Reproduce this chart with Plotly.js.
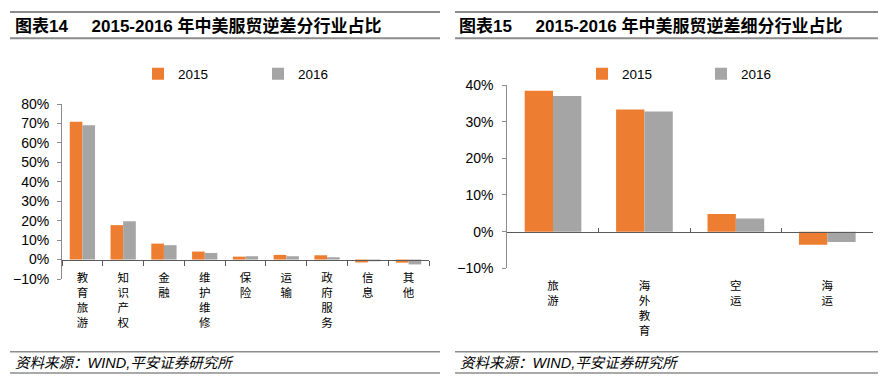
<!DOCTYPE html>
<html>
<head>
<meta charset="utf-8">
<script src="https://cdn.plot.ly/plotly-3.0.1.min.js"></script>
<style>html,body{margin:0;padding:0;background:#fff;overflow:hidden;width:896px;height:388px;}#chart{width:896px;height:388px;overflow:hidden;}</style>
</head>
<body>
<div id="chart"></div>
<script>
// ---- data ----
const seriesNames = ['2015', '2016'];
const cats1 = ['教育旅游', '知识产权', '金融', '维护维修', '保险', '运输', '政府服务', '信息', '其他'];
const share2015_1 = [70.9, 17.7, 8.2, 4.1, 1.5, 2.4, 2.2, -1.5, -1.6];
const share2016_1 = [69.1, 19.7, 7.4, 3.4, 1.7, 1.7, 1.2, -0.9, -2.5];
const cats2 = ['旅游', '海外教育', '空运', '海运'];
const share2015_2 = [38.4, 33.3, 4.8, -3.6];
const share2016_2 = [37.0, 32.8, 3.6, -2.8];
const title1 = '图表14\u00A0\u00A0\u00A0\u00A0\u00A02015-2016 年中美服贸逆差分行业占比';
const title2 = '图表15\u00A0\u00A0\u00A0\u00A0\u00A02015-2016 年中美服贸逆差细分行业占比';
const sourceText = '资料来源：WIND,平安证券研究所';

// ---- layout helpers ----
const W = 896, H = 388;
const px = v => v / W;
const py = v => 1 - v / H;
const ORANGE = '#ED7D31', GRAY = '#A5A5A5';
const FONT = 'Arial, "Liberation Sans", "Noto Sans CJK SC", sans-serif';
const vert = c => c.split('').join('<br>');

// left plot geometry
const y1Range = [-10, 80];
const y1Dom = [py(279), py(104)];
const zero1 = y1Dom[0] + (y1Dom[1] - y1Dom[0]) * (0 - y1Range[0]) / (y1Range[1] - y1Range[0]);
// right plot geometry
const y2Range = [-10, 40];
const y2Dom = [py(268.3), py(85)];
const zero2 = y2Dom[0] + (y2Dom[1] - y2Dom[0]) * (0 - y2Range[0]) / (y2Range[1] - y2Range[0]);

const traces = [
  {type: 'bar', name: seriesNames[0], x: cats1, y: share2015_1, marker: {color: ORANGE}, xaxis: 'x', yaxis: 'y', legend: 'legend'},
  {type: 'bar', name: seriesNames[1], x: cats1, y: share2016_1, marker: {color: GRAY}, xaxis: 'x', yaxis: 'y', legend: 'legend'},
  {type: 'bar', name: seriesNames[0], x: cats2, y: share2015_2, marker: {color: ORANGE}, xaxis: 'x2', yaxis: 'y2', legend: 'legend2'},
  {type: 'bar', name: seriesNames[1], x: cats2, y: share2016_2, marker: {color: GRAY}, xaxis: 'x2', yaxis: 'y2', legend: 'legend2'}
];

const xLineColor = '#5a5a5a', yLineColor = '#8c8c8c';

const layout = {
  width: W, height: H,
  margin: {l: 0, r: 0, t: 0, b: 0},
  paper_bgcolor: '#fff', plot_bgcolor: 'rgba(0,0,0,0)',
  font: {family: FONT, color: '#000', size: 13},
  barmode: 'group', bargap: 0.38, bargroupgap: 0,
  showlegend: true,
  xaxis: {
    domain: [px(62), px(429)], anchor: 'free', position: zero1,
    type: 'category', range: [-0.5, cats1.length - 0.5],
    tickmode: 'array', tickvals: cats1, ticktext: cats1.map(vert),
    tickson: 'boundaries', ticks: 'outside', ticklen: 5, tickcolor: xLineColor,
    showline: true, linecolor: xLineColor, linewidth: 1,
    showgrid: false, zeroline: false,
    tickfont: {family: '"Noto Sans CJK SC", sans-serif', size: 11.5, color: '#000'},
    ticklabelstandoff: 8, tickangle: 0
  },
  yaxis: {
    domain: y1Dom, anchor: 'x', range: y1Range, dtick: 10, ticksuffix: '%',
    ticks: 'outside', ticklen: 4, tickcolor: yLineColor,
    showline: true, linecolor: yLineColor, linewidth: 1,
    showgrid: false, zeroline: false,
    tickfont: {family: FONT, size: 14, color: '#000'},
    ticklabelstandoff: 5
  },
  xaxis2: {
    domain: [px(507.3), px(873)], anchor: 'free', position: zero2,
    type: 'category', range: [-0.5, cats2.length - 0.5],
    tickmode: 'array', tickvals: cats2, ticktext: cats2.map(vert),
    tickson: 'boundaries', ticks: 'inside', ticklen: 4, tickcolor: xLineColor,
    showline: true, linecolor: xLineColor, linewidth: 1,
    showgrid: false, zeroline: false,
    tickfont: {family: '"Noto Sans CJK SC", sans-serif', size: 11.5, color: '#000'},
    ticklabelstandoff: 44, tickangle: 0
  },
  yaxis2: {
    domain: y2Dom, anchor: 'x2', range: y2Range, dtick: 10, ticksuffix: '%',
    ticks: 'outside', ticklen: 4, tickcolor: yLineColor,
    showline: true, linecolor: yLineColor, linewidth: 1,
    showgrid: false, zeroline: false,
    tickfont: {family: FONT, size: 14, color: '#000'},
    ticklabelstandoff: 6
  },
  legend: {
    orientation: 'h', x: px(138), xanchor: 'left', y: py(74), yanchor: 'middle',
    entrywidth: 75, entrywidthmode: 'pixels', bgcolor: 'rgba(0,0,0,0)',
    font: {family: FONT, size: 13.5, color: '#000'}, traceorder: 'normal'
  },
  legend2: {
    orientation: 'h', x: px(582), xanchor: 'left', y: py(74), yanchor: 'middle',
    entrywidth: 74, entrywidthmode: 'pixels', bgcolor: 'rgba(0,0,0,0)',
    font: {family: FONT, size: 13.5, color: '#000'}, traceorder: 'normal'
  },
  shapes: [
    // left panel header/footer rules
    {type: 'line', xref: 'paper', yref: 'paper', x0: px(10), x1: px(440), y0: py(12), y1: py(12), line: {color: '#8c8c8c', width: 2}},
    {type: 'line', xref: 'paper', yref: 'paper', x0: px(10), x1: px(440), y0: py(38.3), y1: py(38.3), line: {color: '#8c8c8c', width: 2}},
    {type: 'line', xref: 'paper', yref: 'paper', x0: px(10), x1: px(440), y0: py(351.7), y1: py(351.7), line: {color: '#8c8c8c', width: 1.5}},
    {type: 'line', xref: 'paper', yref: 'paper', x0: px(10), x1: px(440), y0: py(373), y1: py(373), line: {color: '#8c8c8c', width: 1.5}},
    // right panel
    {type: 'line', xref: 'paper', yref: 'paper', x0: px(455), x1: px(878), y0: py(12), y1: py(12), line: {color: '#8c8c8c', width: 2}},
    {type: 'line', xref: 'paper', yref: 'paper', x0: px(455), x1: px(878), y0: py(38.3), y1: py(38.3), line: {color: '#8c8c8c', width: 2}},
    {type: 'line', xref: 'paper', yref: 'paper', x0: px(455), x1: px(878), y0: py(351.7), y1: py(351.7), line: {color: '#8c8c8c', width: 1.5}},
    {type: 'line', xref: 'paper', yref: 'paper', x0: px(455), x1: px(878), y0: py(373), y1: py(373), line: {color: '#8c8c8c', width: 1.5}}
  ],
  annotations: [
    {xref: 'paper', yref: 'paper', x: px(13), y: py(26.5), xanchor: 'left', yanchor: 'middle', showarrow: false,
     text: '<b>' + title1 + '</b>', font: {family: FONT, size: 17, color: '#000'}},
    {xref: 'paper', yref: 'paper', x: px(457), y: py(26.5), xanchor: 'left', yanchor: 'middle', showarrow: false,
     text: '<b>' + title2 + '</b>', font: {family: FONT, size: 17, color: '#000'}},
    {xref: 'paper', yref: 'paper', x: px(13), y: py(363), xanchor: 'left', yanchor: 'middle', showarrow: false,
     text: '<i>' + sourceText + '</i>', font: {family: FONT, size: 14.5, color: '#000'}},
    {xref: 'paper', yref: 'paper', x: px(458), y: py(363), xanchor: 'left', yanchor: 'middle', showarrow: false,
     text: '<i>' + sourceText + '</i>', font: {family: FONT, size: 14.5, color: '#000'}}
  ]
};

Plotly.newPlot('chart', traces, layout, {staticPlot: true, displayModeBar: false});
</script>
</body>
</html>
